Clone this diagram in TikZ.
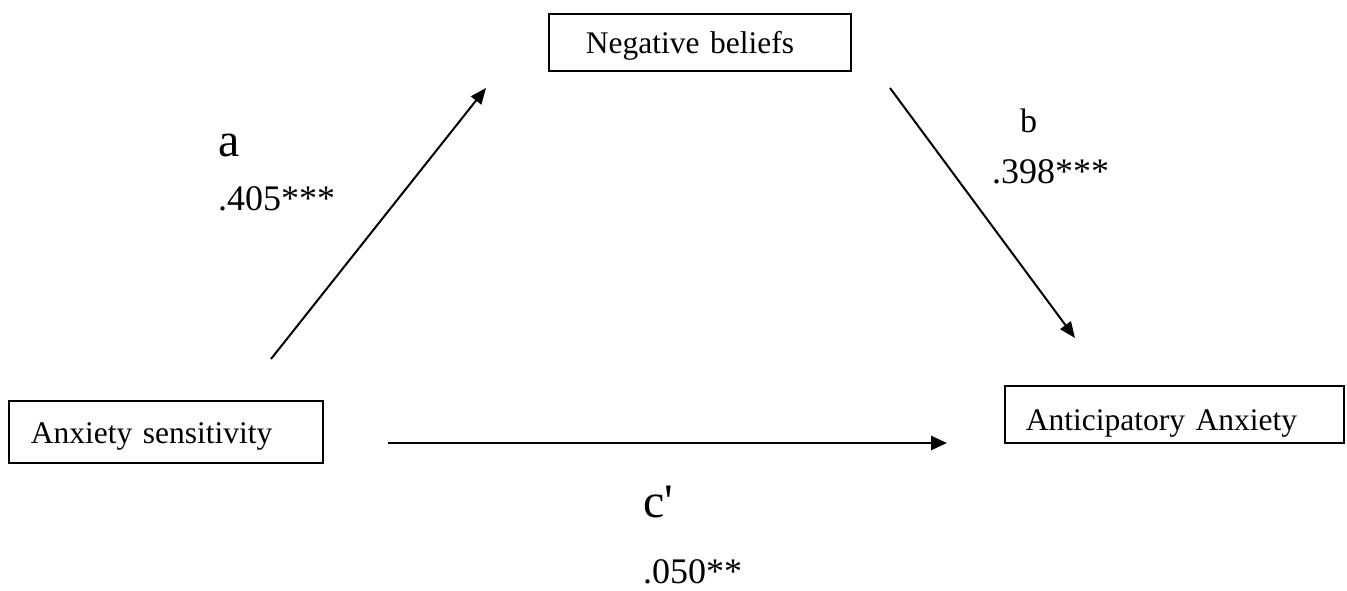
\documentclass[tikz,border=0pt]{standalone}
\usepackage{fontspec}
\setmainfont{Liberation Serif}[Ligatures=TeXOff]
\usetikzlibrary{arrows.meta}
\tikzset{
  varbox/.style={draw, line width=1.8pt, anchor=north west, inner ysep=0pt, align=left, font=\fontsize{31.5}{36}\selectfont},
  lbl/.style={anchor=base west, inner sep=0pt},
  biglbl/.style={lbl, font=\fontsize{48}{52}\selectfont},
  midlbl/.style={lbl, font=\fontsize{34}{38}\selectfont},
  numlbl/.style={lbl, font=\fontsize{36}{40}\selectfont},
  path/.style={line width=2pt, -{Triangle[length=16pt,width=13pt]}},
  paththick/.style={line width=2.7pt, -{Triangle[length=16pt,width=14pt]}}
}
\begin{document}
\begin{tikzpicture}[x=1pt,y=-1pt]
\useasboundingbox (0,0) rectangle (1347,591);
% boxes
\node[varbox, minimum width=302pt, minimum height=57pt, inner xsep=37pt, text width=228pt, text height=23pt, text depth=0pt] (neg) at (548,13) {Negative beliefs};
\node[varbox, minimum width=314pt, minimum height=62pt, inner xsep=22pt, text width=270pt, text height=24pt, text depth=0pt] (as) at (8,400) {Anxiety sensitivity};
\node[varbox, minimum width=339pt, minimum height=57pt, inner xsep=21pt, text width=297pt, text height=33pt, text depth=0pt] (aa) at (1004,385) {Anticipatory Anxiety};
% arrow end points
\coordinate (a0) at (271,359);
\coordinate (a1) at (486,88);
\coordinate (b0) at (890,88);
\coordinate (b1) at (1075,338);
\coordinate (c0) at (388,443);
\coordinate (c1) at (947,443);
\draw[path] (a0) -- (a1);
\draw[path] (b0) -- (b1);
\draw[paththick] (c0) -- (c1);
% labels
\node[biglbl] (la) at (218,157) {a};
\node[numlbl] (na) at (218,210) {.405***};
\node[midlbl] (lb) at (1020,133) {b};
\node[numlbl] (nb) at (992,183) {.398***};
\node[biglbl] (lc) at (643,517) {c'};
\node[numlbl] (nc) at (643,583) {.050**};
\end{tikzpicture}
\end{document}
